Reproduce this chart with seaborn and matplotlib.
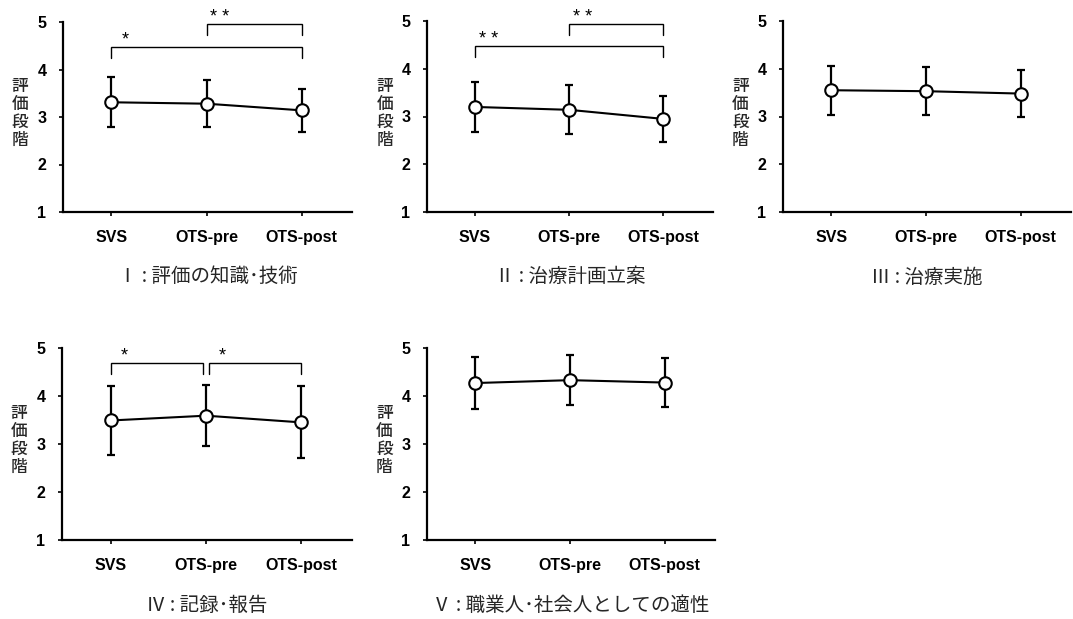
import matplotlib
matplotlib.use("Agg")
import matplotlib.pyplot as plt
import seaborn as sns
import pandas as pd

# ---------------- data ----------------
groups = ["SVS", "OTS-pre", "OTS-post"]

means_1 = [3.31, 3.28, 3.14]
sd_1 = [0.53, 0.49, 0.45]
means_2 = [3.20, 3.14, 2.95]
sd_2 = [0.53, 0.51, 0.48]
means_3 = [3.55, 3.53, 3.48]
sd_3 = [0.51, 0.50, 0.50]
means_4 = [3.49, 3.59, 3.45]
sd_4 = [0.71, 0.64, 0.75]
means_5 = [4.27, 4.33, 4.28]
sd_5 = [0.54, 0.52, 0.51]

titles = ["Ⅰ : 評価の知識･技術", "Ⅱ : 治療計画立案", "Ⅲ : 治療実施",
          "Ⅳ : 記録･報告", "Ⅴ : 職業人･社会人としての適性"]

# significance brackets: (from group index, to group index, bar level, label)
brackets_1 = [(0, 2, 4.48, "*"), (1, 2, 4.95, "* *")]
brackets_2 = [(0, 2, 4.47, "* *"), (1, 2, 4.93, "* *")]
brackets_3 = []
brackets_4 = [(0, 1, 4.69, "*"), (1, 2, 4.69, "*")]
brackets_5 = []

ylabel = "評価段階"
yticks = [1, 2, 3, 4, 5]

# ---------------- style ----------------
sns.set_theme(style="ticks")
plt.rcParams["font.family"] = ["Liberation Sans", "Noto Sans CJK JP", "DejaVu Sans"]
cjk = ["Noto Sans CJK JP", "DejaVu Sans"]

W, H = 1073, 619
fig = plt.figure(figsize=(W / 100, H / 100), dpi=100)
fig.patch.set_facecolor("white")

# panel rectangles in pixels: left, top, right, bottom
rects = [(63, 22, 352, 212), (427, 21, 713, 212), (783, 21, 1071, 212),
         (62, 348, 352, 540), (427, 348, 715, 540)]
panels = [(means_1, sd_1, brackets_1), (means_2, sd_2, brackets_2),
          (means_3, sd_3, brackets_3), (means_4, sd_4, brackets_4),
          (means_5, sd_5, brackets_5)]

for k, ((l, t, r, b), (m, s, br), title) in enumerate(zip(rects, panels, titles)):
    ax = fig.add_axes([l / W, (H - b) / H, (r - l) / W, (b - t) / H])
    df = pd.DataFrame({"group": groups, "mean": m, "sd": s})
    ax.errorbar(range(len(groups)), m, yerr=s, fmt="none", ecolor="black",
                elinewidth=1.6, capsize=3, capthick=1.6, zorder=2)
    sns.pointplot(data=df, x="group", y="mean", order=groups, ax=ax,
                  color="black", errorbar=None, linewidth=1.5,
                  markers="o", markersize=9,
                  markerfacecolor="white", markeredgecolor="black",
                  markeredgewidth=1.5, zorder=3)
    for coll in ax.lines:
        coll.set_markerfacecolor("white")
        coll.set_zorder(3)

    ax.set_ylim(1, 5)
    ax.set_xlim(-0.51, 2.53)
    ax.set_yticks(yticks)
    ax.set_yticklabels([str(v) for v in yticks], fontweight="bold", fontsize=11.5)
    ax.set_xticks(range(len(groups)))
    ax.set_xticklabels(groups, fontweight="bold", fontsize=11.5)
    ax.tick_params(axis="x", length=3, width=1.2, pad=10, colors="black")
    ax.tick_params(axis="y", length=3, width=1.2, pad=9, colors="black")
    ax.set_xlabel("")
    ax.set_ylabel("")
    sns.despine(ax=ax)
    for sp in ["left", "bottom"]:
        ax.spines[sp].set_linewidth(1.6)
        ax.spines[sp].set_color("black")

    # vertical stacked y label
    ax.text(-0.148, 0.52, "\n".join(ylabel), transform=ax.transAxes,
            ha="center", va="center", fontsize=12, family=cjk,
            linespacing=1.0, fontweight="medium")

    # significance brackets
    leg = 0.23
    for (i, j, yb, lab) in br:
        x0 = i + (0.03 if (i == 1 and k == 3) else 0)
        x1 = j - (0.03 if (j == 1 and k == 3) else 0)
        ax.plot([x0, x0, x1, x1], [yb - leg, yb, yb, yb - leg], color="black",
                lw=1.0, clip_on=False, solid_joinstyle="miter")
        ax.text(x0 + 0.14, yb + 0.14, lab, ha="center", va="center",
                fontsize=13, clip_on=False, color="black")

    # panel title below
    ax.text(0.5, -0.34, title, transform=ax.transAxes, ha="center", va="center",
            fontsize=14, family=cjk)

fig.savefig("out.png", dpi=100, facecolor="white")
